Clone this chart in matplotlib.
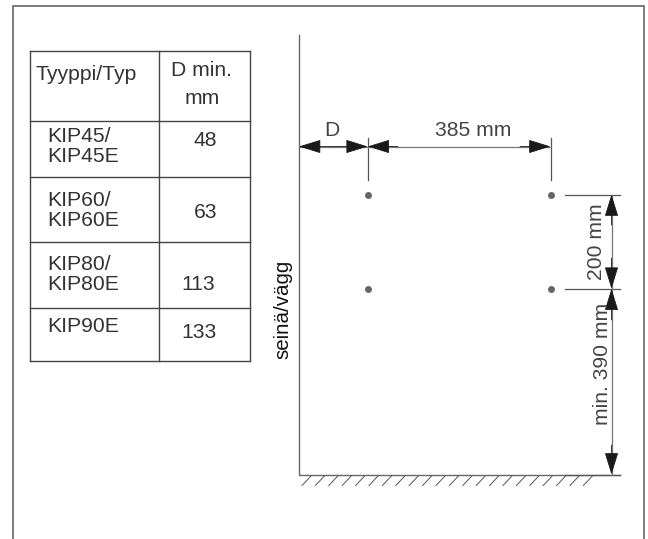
import matplotlib
matplotlib.use("Agg")
import matplotlib.pyplot as plt

plt.rcParams['font.family'] = ['Liberation Sans', 'DejaVu Sans']
W, H = 648, 539

table_col_x = [29.5, 158.5, 249.5]
table_row_y = [50.5, 121, 176.5, 241.5, 308, 360.5]
table_texts = [
    ("Tyyppi/Typ", 35, 72), ("D min.", 171, 68), ("mm", 185, 96),
    ("KIP45/", 47, 135), ("KIP45E", 47, 155), ("48", 194, 139),
    ("KIP60/", 47, 198), ("KIP60E", 47, 218), ("63", 194, 211),
    ("KIP80/", 47, 262), ("KIP80E", 47, 283), ("113", 181, 283),
    ("KIP90E", 47, 325), ("133", 181, 331),
]
wall_x = 299
wall_top = 35
floor_y = 474.5
floor_end = 620
hole_x = [367.7, 550.5]
hole_y = [194.5, 288.7]
dim_y = 146.5
dim_x_line = 611.5
hatch_start_x = [302 + 13.4 * i for i in range(22)]

DARK = "#555555"
INK = "#1a1a1a"
TXT = "#444444"
FS = 15.2

fig = plt.figure(figsize=(W / 100, H / 100), dpi=100, facecolor="white")
ax = fig.add_axes([0, 0, 1, 1])
ax.set_xlim(0, W)
ax.set_ylim(H, 0)
ax.axis("off")

# outer frame, open at the bottom
ax.plot([12.5, 12.5, 643.5, 643.5], [H, 5.5, 5.5, H], color="#666666", lw=1.2,
        solid_joinstyle="miter")

# table
for x in table_col_x:
    ax.plot([x, x], [table_row_y[0], table_row_y[-1]], color="#444444", lw=1.0)
for y in table_row_y:
    ax.plot([table_col_x[0], table_col_x[-1]], [y, y], color="#444444", lw=1.0)
for s, x, y in table_texts:
    ax.text(x, y, s, fontsize=FS, color="#333333", ha="left", va="center_baseline")

# wall and floor
ax.plot([wall_x, wall_x, floor_end], [wall_top, floor_y, floor_y], color="#666666",
        lw=1.0, solid_joinstyle="miter")
for x in hatch_start_x:
    ax.plot([x, x + 9], [485.5, 476], color="#555555", lw=0.7)
ax.text(283, 309, "seinä/vägg", rotation=90, fontsize=14.8, color="#111111",
        ha="center", va="center")

# holes
for x in hole_x:
    for y in hole_y:
        ax.plot([x], [y], "o", ms=5, color="#666666", mec="none")

# extension lines
for x in hole_x:
    ax.plot([x, x], [138, 180], color=DARK, lw=0.9)
for y in hole_y + [floor_y]:
    ax.plot([565, 620], [y, y], color=DARK, lw=0.9)


def arrow(x1, y1, x2, y2):
    ax.annotate("", xy=(x2, y2), xytext=(x1, y1),
                arrowprops=dict(arrowstyle="-|>,head_length=1.0,head_width=0.31", color=INK,
                                lw=0.6, shrinkA=0, shrinkB=0, mutation_scale=14))


# horizontal dimensions
ax.plot([wall_x, hole_x[1]], [dim_y, dim_y], color="#777777", lw=0.9)
for a, b in [(338, wall_x), (338, hole_x[0]), (398, hole_x[0]), (520, hole_x[1])]:
    arrow(a, dim_y, b, dim_y)
ax.text(332, 128, "D", fontsize=FS, color=TXT, ha="center", va="center_baseline")
ax.text(473, 128, "385 mm", fontsize=FS, color=TXT, ha="center", va="center_baseline")

# vertical dimensions
ax.plot([dim_x_line, dim_x_line], [hole_y[0], floor_y], color="#777777", lw=0.9)
for a, b in [(225, hole_y[0]), (258, hole_y[1]), (320, hole_y[1]), (445, floor_y)]:
    arrow(dim_x_line, a, dim_x_line, b)
ax.text(596, 242, "200 mm", rotation=90, fontsize=FS, color=TXT, ha="center", va="center")
ax.text(602, 364, "min. 390 mm", rotation=90, fontsize=FS, color=TXT, ha="center", va="center")

fig.savefig("out.png", dpi=100, facecolor="white")
